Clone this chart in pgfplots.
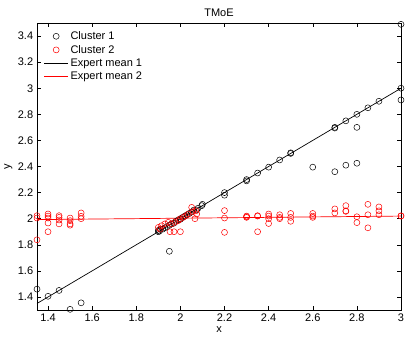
\documentclass[border=0pt]{standalone}
\usepackage{fontspec}
\setmainfont{Liberation Sans}
\usepackage{pgfplots}
\pgfplotsset{compat=1.18}

\pgfplotstableread{
x y
1.35 1.46
1.40 1.405
1.45 1.45
1.50 1.305
1.55 1.355
1.90 1.90
1.90 1.91
1.905 1.905
1.91 1.92
1.92 1.92
1.93 1.93
1.94 1.94
1.95 1.95
1.95 1.75
1.96 1.96
1.97 1.965
1.98 1.98
1.99 1.99
2.00 2.00
2.00 1.995
2.01 2.01
2.02 2.02
2.03 2.03
2.04 2.04
2.05 2.05
2.06 2.065
2.074 2.067
2.08 2.08
2.097 2.10
2.10 2.11
2.20 2.20
2.20 2.18
2.30 2.30
2.30 2.29
2.35 2.35
2.40 2.395
2.45 2.45
2.50 2.50
2.50 2.505
2.60 2.395
2.70 2.70
2.70 2.695
2.70 2.36
2.75 2.75
2.75 2.41
2.80 2.80
2.80 2.70
2.80 2.425
2.85 2.85
2.90 2.90
3.00 3.00
3.00 2.91
3.00 3.49
}\clusterone

\pgfplotstableread{
x y
1.35 2.023
1.35 2.005
1.35 1.838
1.40 2.036
1.40 2.02
1.40 2.005
1.40 1.967
1.40 1.90
1.45 2.023
1.45 2.01
1.45 1.99
1.45 1.96
1.50 2.005
1.50 1.985
1.50 1.96
1.50 1.95
1.55 2.044
1.55 2.018
1.55 2.00
1.90 1.933
1.908 1.92
1.915 1.946
1.93 1.96
1.945 1.972
1.96 1.96
1.975 1.972
1.99 1.985
1.998 1.998
2.013 2.01
2.025 2.023
2.036 2.036
2.051 2.087
2.056 2.054
2.066 2.00
2.074 2.036
2.07 2.06
1.953 1.90
1.971 1.90
2.00 1.90
2.20 2.062
2.20 2.005
2.20 1.895
2.30 2.02
2.30 2.01
2.30 2.015
2.35 2.023
2.35 2.02
2.35 1.90
2.40 2.036
2.40 2.02
2.40 2.00
2.40 1.963
2.45 2.03
2.45 2.01
2.45 2.00
2.50 2.04
2.50 2.01
2.50 1.98
2.60 2.04
2.60 2.02
2.60 2.01
2.70 2.075
2.70 2.044
2.75 2.10
2.75 2.06
2.75 2.056
2.80 2.015
2.80 1.97
2.85 2.11
2.85 2.03
2.85 1.93
2.90 2.09
2.90 2.06
2.90 2.03
3.00 2.02
3.00 2.022
}\clustertwo

\begin{document}
\fontsize{11bp}{13bp}\selectfont
\begin{tikzpicture}
\begin{axis}[
  at={(0,0)}, anchor=south west,
  scale only axis, width=364bp, height=287bp,
  xmin=1.35, xmax=3, ymin=1.3, ymax=3.5,
  xtick={1.4,1.6,1.8,2,2.2,2.4,2.6,2.8,3},
  ytick={1.4,1.6,1.8,2,2.2,2.4,2.6,2.8,3,3.2,3.4},
  tick align=inside, tick pos=both,
  major tick length=4bp,
  tick style={black, line width=0.5bp},
  axis line style={line width=0.6bp},
  /pgf/number format/assume math mode=true,
  ticklabel style={font=\fontsize{11bp}{13bp}\selectfont},
  label style={font=\fontsize{11bp}{13bp}\selectfont},
  title style={font=\fontsize{11bp}{13bp}\selectfont, yshift=-3bp},
  title={TMoE},
  xlabel={x}, ylabel={y},
  xlabel style={yshift=2bp},
  ylabel style={yshift=-2bp},
  legend style={draw=none, fill=none, at={(0.01,0.985)}, anchor=north west,
    font=\fontsize{11bp}{13bp}\selectfont, row sep=0bp},
  legend cell align=left,
]
\addplot[only marks, mark=o, mark size=3bp, black, line width=0.5bp,
  legend image code/.code={\draw[mark=o, mark size=3bp, black, line width=0.5bp] plot coordinates {(12bp,0)};}]
  table[x=x,y=y] {\clusterone};
\addlegendentry{Cluster 1}
\addplot[only marks, mark=o, mark size=3bp, red, line width=0.5bp,
  legend image code/.code={\draw[mark=o, mark size=3bp, red, line width=0.5bp] plot coordinates {(12bp,0)};}]
  table[x=x,y=y] {\clustertwo};
\addlegendentry{Cluster 2}
\addplot[black, line width=0.7bp, no marks,
  legend image code/.code={\draw[black, line width=0.7bp] (0,0) -- (24bp,0);}]
  coordinates {(1.35,1.35) (3,3)};
\addlegendentry{Expert mean 1}
\addplot[red, line width=0.7bp, no marks,
  legend image code/.code={\draw[red, line width=0.7bp] (0,0) -- (24bp,0);}]
  coordinates {(1.35,1.993) (3,2.02)};
\addlegendentry{Expert mean 2}
\end{axis}
\pgfresetboundingbox
\path (-37bp,-30bp) rectangle (372bp,310bp);
\end{tikzpicture}
\end{document}
